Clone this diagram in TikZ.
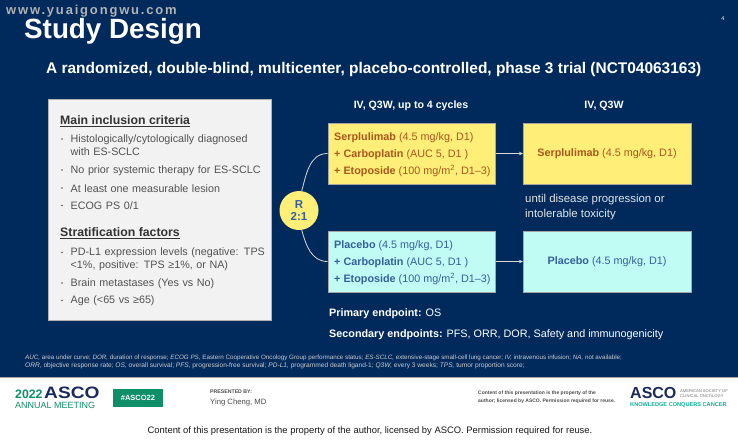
\documentclass[tikz,border=0pt]{standalone}
\usepackage{fontspec}
\usetikzlibrary{arrows.meta}
\setmainfont{Liberation Sans}
\definecolor{navy}{HTML}{002A5C}
\definecolor{armyellow}{HTML}{FFEE77}
\definecolor{armcyan}{HTML}{C0FBF4}
\definecolor{yellowtext}{HTML}{A8581C}
\definecolor{cyantext}{HTML}{35609F}
\definecolor{asco}{HTML}{1B2A5C}
\definecolor{ascogreen}{HTML}{0F8F68}
\newcommand{\fs}[1]{\fontsize{#1}{#1}\selectfont}
\tikzset{
  txt/.style={anchor=west,inner sep=0pt,align=left},
  crit/.style={txt,text=black!68,font=\fs{10.75},text width=196pt,execute at begin node=\setlength{\baselineskip}{13pt}},
  armbox/.style={draw=black!35,line width=.5pt,minimum width=167.5pt,minimum height=61pt,inner sep=0pt},
  armtext/.style={txt,font=\fs{10.8}},
  link/.style={draw=white!85!black,line width=.8pt},
  head/.style={font=\fs{10.6}\bfseries,text=white,inner sep=0pt}
}
\begin{document}
\begin{tikzpicture}[x=1pt,y=-1pt]
\useasboundingbox (0,0) rectangle (738,440);
\fill[navy] (0,0) rectangle (738,377);
\fill[white] (0,378) rectangle (738,440);
\draw[black!35,line width=1pt] (0,377.5) -- (738,377.5);
\node[txt,font=\fs{13}\bfseries,text=black!30] (mark) at (6,11) {\addfontfeature{LetterSpace=14}www.yuaigongwu.com};
\node[txt,font=\fs{27.8}\bfseries,text=white] (title) at (24,31) {Study Design};
\node[font=\fs{5.5},text=white,inner sep=0pt] (page) at (723,19) {4};
\node[txt,font=\fs{15.45}\bfseries,text=white] (subtitle) at (46,70) {A randomized, double-blind, multicenter, placebo-controlled, phase 3 trial (NCT04063163)};
\node[draw=black!30,fill=black!5,line width=.8pt,minimum width=223pt,minimum height=221pt,inner sep=0pt] (panel) at (159.5,209.5) {};
\node[txt,font=\fs{12.3}\bfseries,text=black!80] (inclusion) at (60,121) {\underline{Main inclusion criteria}};
\node[txt,font=\fs{12.3}\bfseries,text=black!80] (stratification) at (60,233.5) {\underline{Stratification factors}};
\foreach \y/\t in {145.5/{Histologically/cytologically diagnosed with ES-SCLC},170.5/{No prior systemic therapy for ES-SCLC},188.5/{At least one measurable lesion},206/{ECOG PS 0/1},259.5/{PD-L1 expression levels (negative: TPS <1\%, positive: TPS ≥1\%, or NA)},283.5/{Brain metastases (Yes vs No)},301/{Age (<65 vs ≥65)}} {
  \node[crit] at (70.5,\y) {\t};
}
\foreach \y in {139,170,188,205.5,252.5,283,300.5} \fill[black!65] (62,\y) circle (.9);
\node[head] (cyclesA) at (411,106) {IV, Q3W, up to 4 cycles};
\node[head] (cyclesB) at (604,106) {IV, Q3W};
\node[armbox,fill=armyellow] (yellowA) at (411.5,153.5) {};
\node[armbox,fill=armyellow] (yellowB) at (607,153.5) {};
\node[armbox,fill=armcyan] (cyanA) at (411.5,261.5) {};
\node[armbox,fill=armcyan] (cyanB) at (607,261.5) {};
\node[circle,fill=armyellow,minimum size=39pt,inner sep=0pt,align=center,font=\fs{11.5}\bfseries,text=cyantext] (rand) at (299,210.5) {R\\[1pt]2:1};
\node[armtext,text=yellowtext] (serpA) at (334,138) {\textbf{Serplulimab} (4.5 mg/kg, D1)};
\node[armtext,text=yellowtext] (carbA) at (334,154.5) {\textbf{+ Carboplatin} (AUC 5, D1 )};
\node[armtext,text=yellowtext] (etoA) at (334,171) {\textbf{+ Etoposide} (100 mg/m\textsuperscript{2}, D1–3)};
\node[armtext,text=cyantext] (placA) at (334,246) {\textbf{Placebo} (4.5 mg/kg, D1)};
\node[armtext,text=cyantext] (carbB) at (334,262.5) {\textbf{+ Carboplatin} (AUC 5, D1 )};
\node[armtext,text=cyantext] (etoB) at (334,279) {\textbf{+ Etoposide} (100 mg/m\textsuperscript{2}, D1–3)};
\node[font=\fs{10.8},text=yellowtext,inner sep=0pt] (serpB) at (607,154) {\textbf{Serplulimab} (4.5 mg/kg, D1)};
\node[font=\fs{10.8},text=cyantext,inner sep=0pt] (placB) at (607,262) {\textbf{Placebo} (4.5 mg/kg, D1)};
\draw[link] (rand.82) to[out=75,in=180] (yellowA.west);
\draw[link] (rand.278) to[out=-75,in=180] (cyanA.west);
\draw[link,-{Stealth[length=4pt,width=3.5pt]}] (yellowA.east) -- (yellowB.west);
\draw[link,-{Stealth[length=4pt,width=3.5pt]}] (cyanA.east) -- (cyanB.west);
\node[txt,font=\fs{11.4},text=white!90!black,align=left,execute at begin node=\setlength{\baselineskip}{14.5pt}] (until) at (525,207) {until disease progression or\\intolerable toxicity};
\node[txt,font=\fs{10.8},text=white] (primary) at (329,314) {\textbf{Primary endpoint:} OS};
\node[txt,font=\fs{10.8},text=white] (secondary) at (329,335) {\textbf{Secondary endpoints:} PFS, ORR, DOR, Safety and immunogenicity};
\node[txt,font=\fs{6.25},text=white!80!black] (abbrA) at (25,358) {\textit{AUC,} area under curve; \textit{DOR,} duration of response; \textit{ECOG PS,} Eastern Cooperative Oncology Group performance status; \textit{ES-SCLC,} extensive-stage small-cell lung cancer; \textit{IV,} intravenous infusion; \textit{NA,} not available;};
\node[txt,font=\fs{6.6},text=white!80!black] (abbrB) at (25,365.5) {\textit{ORR,} objective response rate; \textit{OS,} overall survival; \textit{PFS,} progression-free survival; \textit{PD-L1,} programmed death ligand-1; \textit{Q3W,} every 3 weeks; \textit{TPS,} tumor proportion score;};
\node[txt,font=\fs{12.3}\bfseries,text=ascogreen] (year) at (15,394.5) {2022};
\node[txt,font=\fs{16.5}\bfseries,text=asco] (ascoA) at (44,393) {\addfontfeature{FakeStretch=1.16}ASCO};
\node[txt,font=\fs{9},text=ascogreen] (meeting) at (15,405.5) {ANNUAL MEETING};
\node[fill=ascogreen,minimum width=50pt,minimum height=18pt,inner sep=0pt,font=\fs{7.5}\bfseries,text=white] (tag) at (138,397.5) {\#ASCO22};
\node[txt,font=\fs{5.2}\bfseries,text=black!70] (presented) at (210,391.5) {PRESENTED BY:};
\node[txt,font=\fs{7.7},text=black!70] (speaker) at (210,402) {Ying Cheng, MD};
\node[txt,font=\fs{5}\bfseries,text=black!70,align=left,execute at begin node=\setlength{\baselineskip}{7.4pt}] (notice) at (478,397) {Content of this presentation is the property of the\\author; licensed by ASCO. Permission required for reuse.};
\node[txt,font=\fs{16}\bfseries,text=asco] (ascoB) at (630,393) {ASCO};
\node[txt,font=\fs{4.1},text=black!55,align=left,execute at begin node=\setlength{\baselineskip}{5pt}] (society) at (680,393.5) {AMERICAN SOCIETY OF\\CLINICAL ONCOLOGY};
\node[txt,font=\fs{5.6}\bfseries,text=ascogreen!70!cyan] (conquers) at (630,405) {KNOWLEDGE CONQUERS CANCER};
\node[font=\fs{9.4},text=black!90,inner sep=0pt] (footer) at (370,431.5) {Content of this presentation is the property of the author, licensed by ASCO. Permission required for reuse.};
\end{tikzpicture}
\end{document}
